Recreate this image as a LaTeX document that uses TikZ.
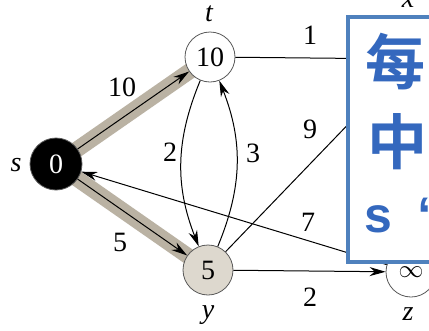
\documentclass[tikz,border=0pt]{standalone}
\usepackage{fontspec}
\setmainfont{Liberation Serif}
\newfontfamily\cjk{Noto Sans CJK SC}[BoldFont={Noto Sans CJK SC Bold}]
\newfontfamily\sansb{Liberation Sans}
\usetikzlibrary{arrows.meta,backgrounds}
\definecolor{hl}{RGB}{186,178,163}
\definecolor{yfill}{RGB}{221,216,206}
\definecolor{boxblue}{RGB}{79,129,189}
\definecolor{txtblue}{RGB}{52,104,190}
\begin{document}
\begin{tikzpicture}[x=1pt,y=-1pt,
  vert/.style={circle,draw=black!65,line width=0.8pt,minimum size=50pt,inner sep=0pt,font=\fontsize{28}{30}\selectfont},
  lbl/.style={font=\fontsize{28}{30}\selectfont\itshape},
  wt/.style={font=\fontsize{28}{30}\selectfont},
  edge/.style={line width=1pt,-{Stealth[length=16pt,width=9pt]}},
  band/.style={line width=16pt,draw=hl},
  cjktxt/.style={text=txtblue,font=\cjk\bfseries\fontsize{60}{64}\selectfont,inner sep=0pt},
  latn/.style={text=txtblue,font=\sansb\bfseries\fontsize{50}{54}\selectfont,inner sep=0pt},
  bigbox/.style={draw=boxblue,line width=4pt,fill=white,minimum width=120pt,minimum height=245pt,anchor=north west,inner sep=0pt}]
\clip (0,0) rectangle (429,330);
\node[vert,fill=black,text=white,minimum size=52pt] (s) at (56,164) {0};
\node[vert,fill=white] (t) at (210,57) {10};
\node[vert,fill=yfill] (y) at (208,270) {5};
\node[vert,fill=white] (z) at (411,272) {$\infty$};
\node[vert,fill=white] (x) at (411,59) {};
\begin{scope}[on background layer]
  \fill[white] (0,0) rectangle (429,330);
  \draw[band] (s.center) -- (t.center);
  \draw[band] (s.center) -- (y.center);
\end{scope}
\node[lbl] (ls) at (16,165) {s};
\node[lbl] (lt) at (209,14) {t};
\node[lbl] (ly) at (208,315) {y};
\node[lbl] (lz) at (408,314) {z};
\node[lbl,anchor=base] (lx) at (408,7) {x};
\draw[edge] (s) -- (t);
\draw[edge] (s) -- (y);
\draw[edge] (t) to[bend right=22] (y);
\draw[edge] (y) to[bend right=22] (t);
\draw[edge] (t) -- (x);
\draw[edge] (y) -- (x);
\draw[edge] (z) -- (s);
\draw[edge] (y) -- (z);
\node[wt] (w10) at (122,87) {10};
\node[wt] (w5) at (120,242) {5};
\node[wt] (w2a) at (170,152) {2};
\node[wt] (w3) at (253,153) {3};
\node[wt] (w1) at (310,35) {1};
\node[wt] (w9) at (310,129) {9};
\node[wt] (w7) at (308,222) {7};
\node[wt] (w2b) at (310,297) {2};
\node[bigbox] (box) at (346,15) {};
\node[cjktxt] (c1) at (395,62) {每};
\node[cjktxt] (c2) at (397,142) {中};
\node[latn,anchor=base] (c3) at (378,232) {s};
\node[latn,anchor=base west] (c4) at (417,232) {“};
\end{tikzpicture}
\end{document}
